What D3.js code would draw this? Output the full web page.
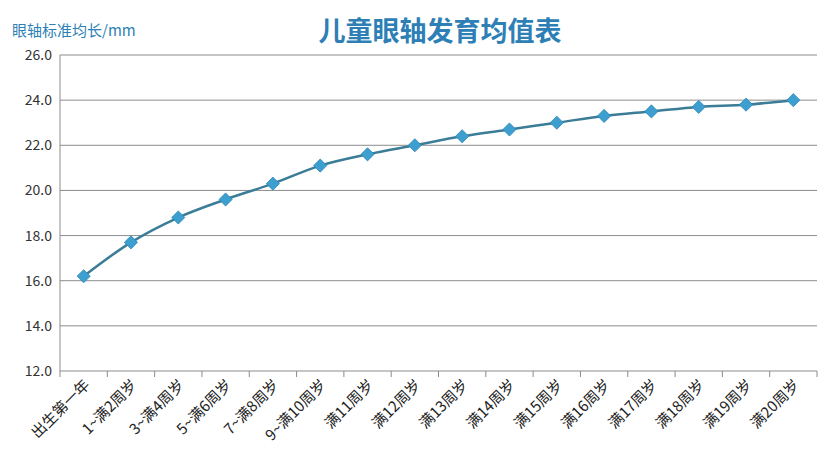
<!DOCTYPE html>
<html><head><meta charset="utf-8">
<script src="https://cdn.jsdelivr.net/npm/d3@7"></script>
<style>body{margin:0;background:#fff}svg{display:block}text{font-family:"Noto Sans CJK SC","Noto Sans",sans-serif}</style>
</head><body><svg width="840" height="467"></svg>
<script>
const categories=["出生第一年","1~满2周岁","3~满4周岁","5~满6周岁","7~满8周岁","9~满10周岁","满11周岁","满12周岁","满13周岁","满14周岁","满15周岁","满16周岁","满17周岁","满18周岁","满19周岁","满20周岁"];
const values=[16.2,17.7,18.8,19.6,20.3,21.1,21.6,22.0,22.4,22.7,23.0,23.3,23.5,23.7,23.8,24.0];
const yTicks=[12,14,16,18,20,22,24,26];
const svg=d3.select("svg");
const L=60,R=817,T=55,B=371;
const x=d3.scaleBand().domain(categories).range([L,R]);
const y=d3.scaleLinear().domain([12,26]).range([B,T]);
svg.append("g").selectAll("line").data(yTicks).join("line")
 .attr("x1",L).attr("x2",R).attr("y1",d=>y(d)).attr("y2",d=>y(d)).attr("stroke","#8c8c8c").attr("stroke-width",1);
svg.append("line").attr("x1",L).attr("x2",L).attr("y1",T).attr("y2",B).attr("stroke","#8c8c8c");
svg.append("g").selectAll("text").data(yTicks).join("text")
 .attr("x",L-8).attr("y",d=>y(d)+5).attr("text-anchor","end").attr("font-size",14).attr("fill","#333").text(d=>d.toFixed(1));
const bounds=categories.map(c=>x(c)).concat([R]);
svg.append("g").selectAll("line").data(bounds).join("line")
 .attr("x1",d=>d).attr("x2",d=>d).attr("y1",B).attr("y2",B+6).attr("stroke","#8c8c8c");
svg.append("g").selectAll("text").data(categories).join("text")
 .attr("transform",c=>`translate(${x(c)+x.bandwidth()/2+7},${B+15}) rotate(-45)`)
 .attr("text-anchor","end").attr("font-size",15).attr("fill","#222").text(c=>c);
const cx=c=>x(c)+x.bandwidth()/2;
svg.append("path").datum(values).attr("fill","none").attr("stroke","#3b7d97").attr("stroke-width",2.5)
 .attr("d",d3.line().x((d,i)=>cx(categories[i])).y(d=>y(d)).curve(d3.curveMonotoneX));
svg.append("g").selectAll("path").data(values).join("path")
 .attr("transform",(d,i)=>`translate(${cx(categories[i])},${y(d)})`)
 .attr("d",d3.symbol(d3.symbolDiamond2,110)()).attr("fill","#3d9fcf").attr("stroke","#2d86b5").attr("stroke-width",0.8);
svg.append("text").attr("x",440).attr("y",41).attr("text-anchor","middle").attr("font-size",27).attr("font-weight","bold").attr("fill","#2d7fb5").text("儿童眼轴发育均值表");
svg.append("text").attr("x",12).attr("y",36).attr("font-size",15).attr("fill","#2d7fb5").text("眼轴标准均长/mm");
</script></body></html>
